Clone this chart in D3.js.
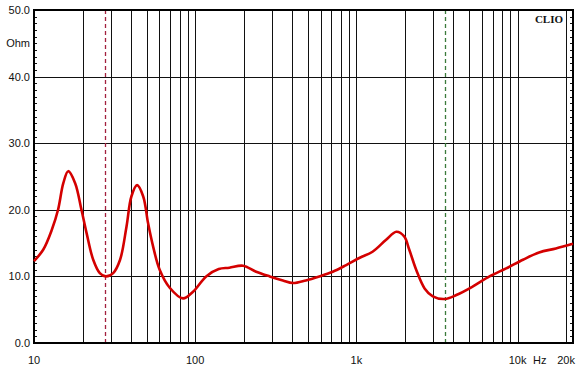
<!DOCTYPE html>
<html>
<head>
<meta charset="utf-8">
<script src="https://cdn.jsdelivr.net/npm/d3@7"></script>
<style>
  body { margin: 0; background: #fff; }
  text { font-family: Arial, "Liberation Sans", sans-serif; font-size: 11px; fill: #111; }
</style>
</head>
<body>
<svg id="chart" width="578" height="367"></svg>
<script>
// impedance curve (Hz, Ohm)
let freq = [10, 11.4, 12.9, 14.1, 15.2, 16.3, 18, 19.7, 21.2, 23.3, 25.6, 27.9, 31, 34.2, 37.5, 40.2,
            43.6, 47.6, 51, 54.8, 60.2, 69.5, 84, 97, 117, 140, 163, 198, 239, 290, 350, 403, 486,
            589, 714, 865, 1050, 1260, 1530, 1770, 1980, 2130, 2350, 2650, 2980, 3520, 4170, 5290,
            6700, 8500, 10800, 13600, 17300, 22080];
let ohm = [12.3, 14, 17, 20, 24, 25.8, 24, 20, 16.5, 12.5, 10.5, 10.0, 10.5, 12.5, 17.5, 22,
           23.7, 22, 18, 14.5, 11, 8.3, 6.7, 7.7, 10, 11.1, 11.3, 11.6, 10.7, 10, 9.4, 9.0, 9.4,
           10, 10.7, 11.7, 12.8, 13.7, 15.5, 16.7, 16, 14, 11, 8.2, 7, 6.6, 7.2, 8.5,
           10, 11.2, 12.5, 13.6, 14.2, 14.9];

// axis labels
let yTicks = [0, 10, 20, 30, 40, 50];
let xLabels = [10, 100, 1000, 10000, 20000];
let xLabelText = ['10', '100', '1k', '10k', '20k'];

// marker lines (dashed)
let markers = [27.6, 3550];
let markerCols = ['#a3203e', '#3b7a3b'];

let svg = d3.select('#chart');

// plot box
let pL = 34, pR = 573, pT = 10, pB = 343;

let x = d3.scaleLog().domain([10, 22080]).range([pL, pR]);
let y = d3.scaleLinear().domain([0, 50]).range([pB, pT]);

// vertical grid lines: 20..90, 100..900 etc
let grid = [];
[10, 100, 1000, 10000].forEach(dec => {
  for (let k = 1; k <= 9; k++) {
    let f = dec * k;
    if (f > 10 && f <= 20000) grid.push(f);
  }
});

svg.selectAll('line.vgrid').data(grid).enter().append('line')
  .attr('class', 'vgrid')
  .attr('x1', d => Math.round(x(d)) + 0.5)
  .attr('x2', d => Math.round(x(d)) + 0.5)
  .attr('y1', pT).attr('y2', pB)
  .attr('stroke', '#111').attr('stroke-width', 1);

svg.selectAll('line.hgrid').data(yTicks.filter(d => d > 0 && d < 50)).enter().append('line')
  .attr('class', 'hgrid')
  .attr('x1', pL).attr('x2', pR)
  .attr('y1', d => Math.round(y(d)) + 0.5)
  .attr('y2', d => Math.round(y(d)) + 0.5)
  .attr('stroke', '#111').attr('stroke-width', 1);

// minor ticks every 1 Ohm on both sides, inside the frame
let minor = d3.range(1, 50).filter(d => d % 10 != 0);
svg.selectAll('line.ml').data(minor).enter().append('line')
  .attr('x1', pL).attr('x2', pL + 3)
  .attr('y1', d => Math.round(y(d)) + 0.5).attr('y2', d => Math.round(y(d)) + 0.5)
  .attr('stroke', '#111');
svg.selectAll('line.mr').data(minor).enter().append('line')
  .attr('x1', pR - 3).attr('x2', pR)
  .attr('y1', d => Math.round(y(d)) + 0.5).attr('y2', d => Math.round(y(d)) + 0.5)
  .attr('stroke', '#111');

// dashed marker lines
svg.selectAll('line.marker').data(markers).enter().append('line')
  .attr('x1', d => Math.round(x(d)) + 0.5)
  .attr('x2', d => Math.round(x(d)) + 0.5)
  .attr('y1', pT).attr('y2', pB)
  .attr('stroke', (d, i) => markerCols[i])
  .attr('stroke-width', 1.3)
  .attr('stroke-dasharray', '4,3');

// frame
svg.append('rect')
  .attr('x', pL).attr('y', pT)
  .attr('width', pR - pL).attr('height', pB - pT)
  .attr('fill', 'none').attr('stroke', '#000').attr('stroke-width', 2);

// impedance curve
let line = d3.line()
  .x((d, i) => x(freq[i]))
  .y(d => y(d))
  .curve(d3.curveCatmullRom.alpha(0.5));

svg.append('path')
  .datum(ohm)
  .attr('d', line)
  .attr('fill', 'none')
  .attr('stroke', '#d40000')
  .attr('stroke-width', 2.6)
  .attr('stroke-linejoin', 'round');

// y labels
svg.selectAll('text.ylab').data(yTicks).enter().append('text')
  .attr('x', 30)
  .attr('y', d => y(d) + 4)
  .attr('text-anchor', 'end')
  .text(d => d.toFixed(1));

svg.append('text').attr('x', 30).attr('y', 47).attr('text-anchor', 'end').text('Ohm');

// x labels
svg.selectAll('text.xlab').data(xLabels).enter().append('text')
  .attr('x', d => x(d))
  .attr('y', 364)
  .attr('text-anchor', 'middle')
  .text((d, i) => xLabelText[i]);

svg.append('text').attr('x', 533).attr('y', 364).text('Hz');

svg.append('text')
  .attr('x', 563).attr('y', 23)
  .attr('text-anchor', 'end')
  .style('font-family', '"Liberation Serif", "Times New Roman", serif')
  .style('font-weight', 'bold')
  .style('font-size', '11px')
  .text('CLIO');
</script>
</body>
</html>
